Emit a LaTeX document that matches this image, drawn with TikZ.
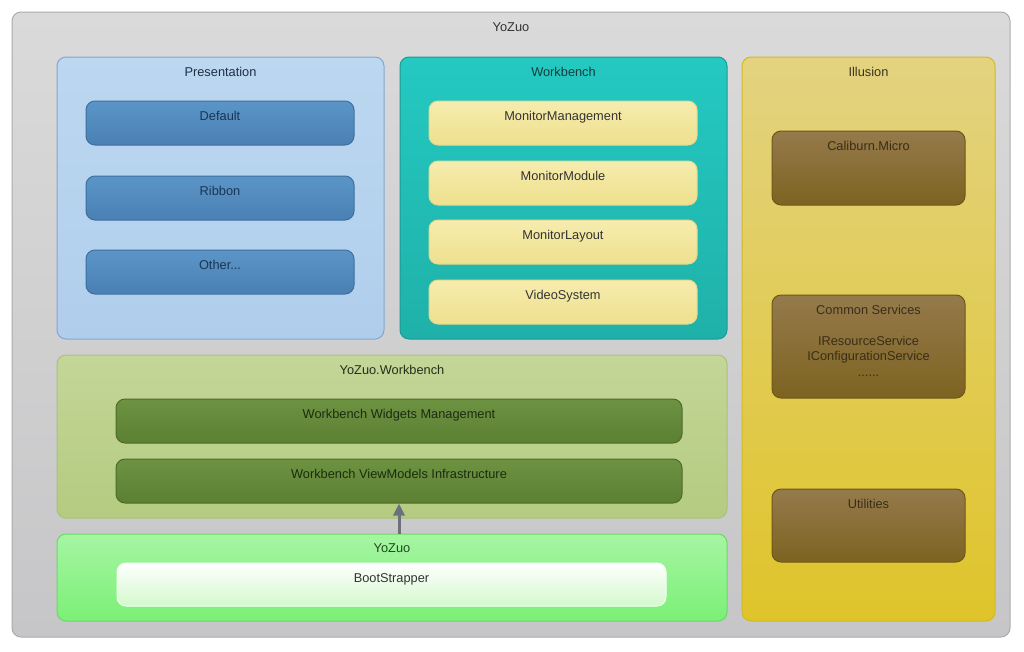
\documentclass[tikz,border=0pt]{standalone}
\usepackage{fontspec}
\setmainfont{Liberation Sans}
\usetikzlibrary{fit,arrows.meta}
\definecolor{outertop}{HTML}{DADADA}
\definecolor{outerbot}{HTML}{C6C6C8}
\definecolor{outerline}{HTML}{ABABAB}
\definecolor{prestop}{HTML}{BCD7F0}
\definecolor{presbot}{HTML}{B0CEEC}
\definecolor{presline}{HTML}{7FA7D4}
\definecolor{bluetop}{HTML}{5B95C8}
\definecolor{bluebot}{HTML}{4A80B3}
\definecolor{blueline}{HTML}{3E6F9F}
\definecolor{tealtop}{HTML}{24C9C1}
\definecolor{tealbot}{HTML}{1FB1A9}
\definecolor{tealline}{HTML}{1A9C95}
\definecolor{paletop}{HTML}{F6ECAE}
\definecolor{palebot}{HTML}{EEE08E}
\definecolor{paleline}{HTML}{E6D88A}
\definecolor{goldtop}{HTML}{E3D380}
\definecolor{goldbot}{HTML}{DFC42A}
\definecolor{goldline}{HTML}{D2BA24}
\definecolor{browntop}{HTML}{957A4C}
\definecolor{brownbot}{HTML}{7D6320}
\definecolor{brownline}{HTML}{6E5818}
\definecolor{olivetop}{HTML}{C4D698}
\definecolor{olivebot}{HTML}{B4CB80}
\definecolor{oliveline}{HTML}{A9C17B}
\definecolor{greentop}{HTML}{6C9242}
\definecolor{greenbot}{HTML}{5C8032}
\definecolor{greenline}{HTML}{4D6C28}
\definecolor{limetop}{HTML}{A6F5A2}
\definecolor{limebot}{HTML}{7BF076}
\definecolor{limeline}{HTML}{6CD868}
\definecolor{bootbot}{HTML}{D4F8CC}
\definecolor{arrowgray}{HTML}{6C6F7E}
\definecolor{prestext}{HTML}{1E3046}
\definecolor{bluetext}{HTML}{1A3552}
\definecolor{tealtext}{HTML}{123E3C}
\definecolor{goldtext}{HTML}{3A3420}
\definecolor{browntext}{HTML}{3A2E18}
\definecolor{olivetext}{HTML}{24301A}
\definecolor{greentext}{HTML}{1C2C10}
\definecolor{limetext}{HTML}{1E4A1E}
\tikzset{
  box/.style={rounded corners=9pt, line width=1pt, inner sep=0pt},
  ttl/.style={anchor=north, inner sep=0pt, yshift=-10.5pt, align=center,
    font=\fontsize{12.8}{15.5}\selectfont, text=black!80},
  outerbox/.style={box, draw=outerline, top color=outertop, bottom color=outerbot},
  presbox/.style={box, draw=presline, top color=prestop, bottom color=presbot},
  bluebox/.style={box, draw=blueline, top color=bluetop, bottom color=bluebot},
  tealbox/.style={box, draw=tealline, top color=tealtop, bottom color=tealbot},
  palebox/.style={box, draw=paleline, top color=paletop, bottom color=palebot},
  goldbox/.style={box, draw=goldline, top color=goldtop, bottom color=goldbot},
  brownbox/.style={box, draw=brownline, top color=browntop, bottom color=brownbot},
  olivebox/.style={box, draw=oliveline, top color=olivetop, bottom color=olivebot},
  greenbox/.style={box, draw=greenline, top color=greentop, bottom color=greenbot},
  limebox/.style={box, draw=limeline, top color=limetop, bottom color=limebot},
  bootbox/.style={box, draw=white!90!limetop, top color=white, bottom color=bootbot},
  deparrow/.style={-{Triangle[length=12pt,width=11pt]}, line width=3pt, draw=arrowgray}
}
\begin{document}
\begin{tikzpicture}[x=1pt,y=-1pt]
\useasboundingbox (0,0) rectangle (1024,651);
% outer frame
\node[outerbox, fit={(12,12) (1010,637)}] (outer) {};
\node[ttl] (outert) at (outer.north) {YoZuo};
% presentation
\node[presbox, fit={(57,57) (384,339)}] (pres) {};
\node[ttl, text=prestext] (prest) at (pres.north) {Presentation};
\node[bluebox, fit={(86,101) (354,145)}] (pdef) {};
\node[ttl, text=bluetext] (pdeft) at (pdef.north) {Default};
\node[bluebox, fit={(86,176) (354,220)}] (prib) {};
\node[ttl, text=bluetext] (pribt) at (prib.north) {Ribbon};
\node[bluebox, fit={(86,250) (354,294)}] (poth) {};
\node[ttl, text=bluetext] (potht) at (poth.north) {Other...};
% workbench
\node[tealbox, fit={(400,57) (727,339)}] (wb) {};
\node[ttl, text=tealtext] (wbt) at (wb.north) {Workbench};
\node[palebox, fit={(429,101) (697,145)}] (mman) {};
\node[ttl] (mmant) at (mman.north) {MonitorManagement};
\node[palebox, fit={(429,161) (697,205)}] (mmod) {};
\node[ttl] (mmodt) at (mmod.north) {MonitorModule};
\node[palebox, fit={(429,220) (697,264)}] (mlay) {};
\node[ttl] (mlayt) at (mlay.north) {MonitorLayout};
\node[palebox, fit={(429,280) (697,324)}] (vsys) {};
\node[ttl] (vsyst) at (vsys.north) {VideoSystem};
% illusion
\node[goldbox, fit={(742,57) (995,621)}] (ill) {};
\node[ttl, text=goldtext] (illt) at (ill.north) {Illusion};
\node[brownbox, fit={(772,131) (965,205)}] (cal) {};
\node[ttl, text=browntext] (calt) at (cal.north) {Caliburn.Micro};
\node[brownbox, fit={(772,295) (965,398)}] (csrv) {};
\node[ttl, text=browntext] (csrvt) at (csrv.north)
  {Common Services\\ \\IResourceService\\IConfigurationService\\......};
\node[brownbox, fit={(772,489) (965,562)}] (util) {};
\node[ttl, text=browntext] (utilt) at (util.north) {Utilities};
% yozuo.workbench
\node[olivebox, fit={(57,355) (727,518)}] (ywb) {};
\node[ttl, text=olivetext] (ywbt) at (ywb.north) {YoZuo.Workbench};
\node[greenbox, fit={(116,399) (682,443)}] (wwm) {};
\node[ttl, text=greentext] (wwmt) at (wwm.north) {Workbench Widgets Management};
\node[greenbox, fit={(116,459) (682,503)}] (wvm) {};
\node[ttl, text=greentext] (wvmt) at (wvm.north) {Workbench ViewModels Infrastructure};
% yozuo
\node[limebox, fit={(57,534) (727,621)}] (yoz) {};
\node[ttl, yshift=1pt, text=limetext] (yozt) at (yoz.north) {YoZuo};
\node[bootbox, fit={(117,563) (666,606)}] (boot) {};
\node[ttl, text=black!80] (boott) at (boot.north) {BootStrapper};
% dependency
\draw[deparrow] (wvm.south |- yoz.north) -- (wvm.south);
\end{tikzpicture}
\end{document}
